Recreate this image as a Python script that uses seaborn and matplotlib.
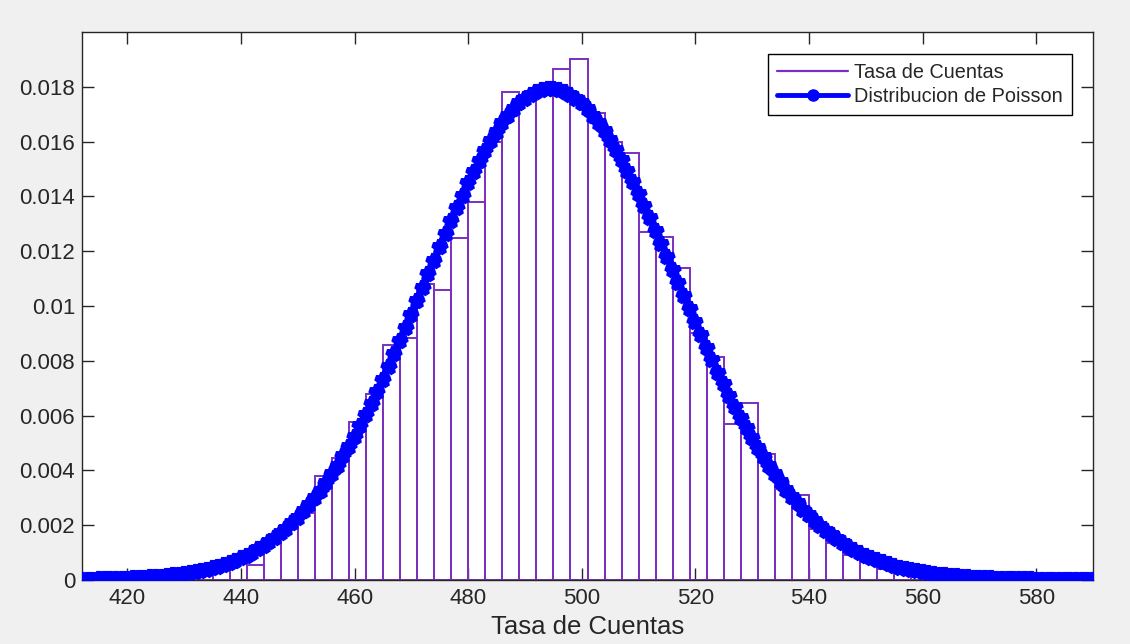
import matplotlib
matplotlib.use("Agg")
import matplotlib.pyplot as plt
from matplotlib.lines import Line2D
from matplotlib.ticker import FuncFormatter
import seaborn as sns

# histogram of measured count rates (left bin edge, normalised height)
bin_starts = [432, 435, 438, 441, 444, 447, 450, 453, 456, 459, 462, 465, 468,
              471, 474, 477, 480, 483, 486, 489, 492, 495, 498, 501, 504, 507,
              510, 513, 516, 519, 522, 525, 528, 531, 534, 537, 540, 543, 546,
              549, 552, 555, 558]
bin_heights = [0.00020, 0.00045, 0.00070, 0.00055, 0.00140, 0.00190, 0.00245,
               0.00380, 0.00444, 0.00578, 0.00680, 0.00858, 0.00882, 0.01080,
               0.01060, 0.01250, 0.01380, 0.01600, 0.01782, 0.01750, 0.01790,
               0.01864, 0.01900, 0.01705, 0.01600, 0.01560, 0.01271, 0.01253,
               0.01140, 0.00900, 0.00815, 0.00569, 0.00645, 0.00460, 0.00331,
               0.00310, 0.00185, 0.00136, 0.00090, 0.00065, 0.00040, 0.00025,
               0.00012]
bin_width = 3

# Poisson curve (one per integer count)
poisson_k = list(range(412, 591))
poisson_pmf = [
    0.0000122, 0.0000146, 0.0000175, 0.0000209, 0.0000248, 0.0000295, 0.0000349,
    0.0000412, 0.0000486, 0.0000572, 0.0000671, 0.0000785, 0.0000916, 0.000107,
    0.000124, 0.000144, 0.000166, 0.000192, 0.000221, 0.000254, 0.000290,
    0.000332, 0.000379, 0.000431, 0.000489, 0.000554, 0.000626, 0.000706,
    0.000794, 0.000892, 0.000999, 0.001116, 0.001244, 0.001384, 0.001536,
    0.001701, 0.001879, 0.002071, 0.002279, 0.002501, 0.002739, 0.002993,
    0.003263, 0.003550, 0.003853, 0.004174, 0.004511, 0.004865, 0.005235,
    0.005621, 0.006023, 0.006439, 0.006869, 0.007312, 0.007768, 0.008233,
    0.008708, 0.009191, 0.009680, 0.010173, 0.010669, 0.011165, 0.011660,
    0.012151, 0.012636, 0.013113, 0.013579, 0.014032, 0.014471, 0.014892,
    0.015294, 0.015674, 0.016030, 0.016360, 0.016663, 0.016937, 0.017180,
    0.017391, 0.017568, 0.017712, 0.017820, 0.017892, 0.017928, 0.017928,
    0.017892, 0.017820, 0.017713, 0.017571, 0.017395, 0.017187, 0.016947,
    0.016677, 0.016380, 0.016055, 0.015706, 0.015334, 0.014942, 0.014531,
    0.014104, 0.013662, 0.013208, 0.012745, 0.012274, 0.011797, 0.011317,
    0.010835, 0.010354, 0.009876, 0.009401, 0.008932, 0.008470, 0.008016,
    0.007572, 0.007140, 0.006719, 0.006311, 0.005916, 0.005536, 0.005171,
    0.004820, 0.004485, 0.004165, 0.003861, 0.003572, 0.003299, 0.003041,
    0.002798, 0.002569, 0.002355, 0.002155, 0.001968, 0.001794, 0.001632,
    0.001483, 0.001344, 0.001216, 0.001099, 0.000990, 0.000891, 0.000801,
    0.000718, 0.000643, 0.000574, 0.000512, 0.000456, 0.000405, 0.000360,
    0.000318, 0.000282, 0.000248, 0.000219, 0.000192, 0.000169, 0.000148,
    0.000129, 0.000113, 0.0000984, 0.0000856, 0.0000743, 0.0000645, 0.0000558,
    0.0000482, 0.0000416, 0.0000358, 0.0000308, 0.0000264, 0.0000226, 0.0000193,
    0.0000165, 0.0000141, 0.0000120, 0.0000102, 0.0000086, 0.0000073, 0.0000062,
    0.0000052, 0.0000044, 0.0000037, 0.0000031,
]

x_ticks = [420, 440, 460, 480, 500, 520, 540, 560, 580]
y_ticks = [0, 0.002, 0.004, 0.006, 0.008, 0.01, 0.012, 0.014, 0.016, 0.018]

PURPLE = "#7a2fc0"
BLUE = "#0000ff"
AXIS_GREY = "#262626"

sns.set_style("ticks")
plt.rcParams["font.family"] = ["Liberation Sans", "DejaVu Sans"]

fig = plt.figure(figsize=(11.3, 6.44), dpi=100, facecolor="#f0f0f0")
ax = fig.add_axes([82 / 1130, 1 - 580 / 644, 1011 / 1130, 548 / 644])
ax.set_facecolor("white")

edges = bin_starts + [bin_starts[-1] + bin_width]
centers = [s + bin_width / 2 for s in bin_starts]
sns.histplot(x=centers, weights=bin_heights, bins=edges, fill=False,
             element="bars", color=PURPLE, linewidth=1.4, ax=ax)

sns.lineplot(x=poisson_k, y=poisson_pmf, color=BLUE, linewidth=5.5,
             marker="*", markersize=10, markeredgewidth=4.2,
             markeredgecolor=BLUE, markerfacecolor=BLUE, ax=ax, zorder=3)

ax.set_xlim(412, 590)
ax.set_ylim(0, 0.02)
ax.set_xticks(x_ticks)
ax.set_yticks(y_ticks)
ax.yaxis.set_major_formatter(FuncFormatter(lambda v, _: "%g" % round(v, 6)))
ax.tick_params(direction="in", length=8.5, width=1, colors=AXIS_GREY,
               labelsize=16, top=True, right=True)
ax.tick_params(axis="x", pad=6)
ax.tick_params(axis="y", pad=5)
for side in ax.spines.values():
    side.set_visible(True)
    side.set_color(AXIS_GREY)
    side.set_linewidth(1)

ax.set_xlabel("Tasa de Cuentas", fontsize=18.5, color=AXIS_GREY, labelpad=4)
ax.set_ylabel("")

handles = [
    Line2D([], [], color=PURPLE, linewidth=1.6),
    Line2D([], [], color=BLUE, linewidth=3.5, marker="o", markersize=8),
]
leg = ax.legend(handles, ["Tasa de Cuentas", "Distribucion de Poisson"],
                loc="upper right", bbox_to_anchor=(0.9792, 0.9599),
                borderaxespad=0, fontsize=14.3, frameon=True, fancybox=False,
                edgecolor="black", framealpha=1, handlelength=3.6,
                handletextpad=0.3, labelspacing=0.25, borderpad=0.45,
                numpoints=1)
leg.get_frame().set_linewidth(1)

fig.savefig("out.png", dpi=100, facecolor=fig.get_facecolor())
